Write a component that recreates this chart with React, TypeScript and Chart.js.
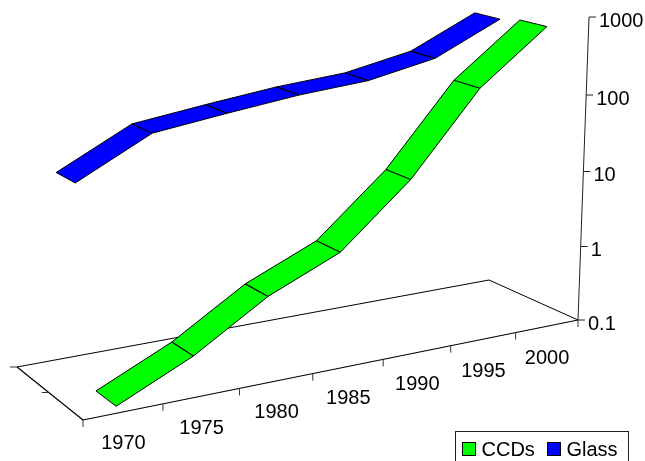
import React, { useEffect, useRef } from "react";
import { Chart, registerables } from "chart.js";

Chart.register(...registerables);

const years = [1970, 1975, 1980, 1985, 1990, 1995, 2000];
const ccds = [0.1, 0.27, 1, 2.5, 15, 162, 780];
const glass = [27, 81, 109, 143, 171, 263, 690];
const yTicks = [0.1, 1, 10, 100, 1000];
const depthBands = [[0.1, 0.385], [0.6, 0.885]];
const seriesColors = ["#00ff00", "#0000ff"];
const FONT = '20px "Liberation Sans", Arial, sans-serif';

// Perspective camera for the 3D look: (u along years, v depth, h height) -> screen.
const A = [83, 420], B = [578, 320], C = [489, 280], D = [17, 367], TOP = [589, 17];
const PERSP_H = -0.039;
const dx1 = B[0] - C[0], dx2 = D[0] - C[0], sx = A[0] - B[0] + C[0] - D[0];
const dy1 = B[1] - C[1], dy2 = D[1] - C[1], sy = A[1] - B[1] + C[1] - D[1];
const det = dx1 * dy2 - dx2 * dy1;
const g = (sx * dy2 - dx2 * sy) / det;
const i_ = (dx1 * sy - sx * dy1) / det;
const a = B[0] - A[0] + g * B[0], b = D[0] - A[0] + i_ * D[0];
const e = B[1] - A[1] + g * B[1], f = D[1] - A[1] + i_ * D[1];
const j = PERSP_H * (1 + g);
const c = TOP[0] * (1 + g + j) - (a + A[0]);
const k = TOP[1] * (1 + g + j) - (e + A[1]);
function project(u: number, v: number, h: number): [number, number] {
  const w = 1 + g * u + i_ * v + j * h;
  return [(a * u + b * v + c * h + A[0]) / w, (e * u + f * v + k * h + A[1]) / w];
}

const scene3d = {
  id: "scene3d",
  beforeDatasetsDraw(chart: any) {
    const ctx = chart.ctx;
    const xs = chart.scales.x, ys = chart.scales.y, area = chart.chartArea;
    const uOf = (yr: number) => (xs.getPixelForValue(yr) - area.left) / area.width;
    const line = (p: number[], q: number[], w: number, col = "#000") => {
      ctx.beginPath();
      ctx.moveTo(p[0], p[1]);
      ctx.lineTo(q[0], q[1]);
      ctx.lineWidth = w;
      ctx.strokeStyle = col;
      ctx.stroke();
    };
    ctx.save();
    // floor
    line(project(0, 1, 0), project(1, 1, 0), 1);
    line(project(1, 1, 0), project(1, 0, 0), 1);
    line(project(0, 0, 0), project(0, 1, 0), 1.2);
    line(project(0, 0, 0), project(1, 0, 0), 1.2);
    // year ticks
    for (let n = 0; n <= years.length; n++) {
      const p = project(n / years.length, 0, 0);
      line(p, [p[0], p[1] + 7], 1, "#333");
    }
    // depth ticks
    for (const v of [0.5, 1]) {
      const p = project(0, v, 0);
      line(p, [p[0] - 7, p[1]], 1, "#333");
    }
    // year labels
    ctx.font = FONT;
    ctx.fillStyle = "#000";
    ctx.textAlign = "center";
    ctx.textBaseline = "middle";
    years.forEach((yr) => {
      const p = project(uOf(yr), 0, 0);
      ctx.fillText(String(yr), p[0], p[1] + 32);
    });
    // value axis
    line(project(1, 0, 0), project(1, 0, 1), 1, "#222");
    ctx.textAlign = "left";
    yTicks.forEach((t) => {
      const h = (area.bottom - ys.getPixelForValue(t)) / area.height;
      const p = project(1, 0, h);
      line(p, [p[0] + 7, p[1]], 1, "#222");
      ctx.fillText(String(t), p[0] + 10, p[1] + 4);
    });
    ctx.restore();
  },
  beforeDatasetDraw(chart: any, args: any) {
    const ctx = chart.ctx, area = chart.chartArea;
    const band = depthBands[args.index];
    const pts = args.meta.data.map((el: any) => {
      const u = (el.x - area.left) / area.width;
      const h = (area.bottom - el.y) / area.height;
      return { front: project(u, band[0], h), back: project(u, band[1], h) };
    });
    ctx.save();
    ctx.lineJoin = "miter";
    ctx.fillStyle = chart.data.datasets[args.index].backgroundColor;
    ctx.beginPath();
    pts.forEach((p: any, n: number) => (n ? ctx.lineTo(p.front[0], p.front[1]) : ctx.moveTo(p.front[0], p.front[1])));
    [...pts].reverse().forEach((p: any) => ctx.lineTo(p.back[0], p.back[1]));
    ctx.closePath();
    ctx.fill();
    ctx.lineWidth = 1;
    ctx.strokeStyle = "#000";
    ctx.stroke();
    ctx.lineWidth = 1.2;
    pts.slice(1, -1).forEach((p: any) => {
      ctx.beginPath();
      ctx.moveTo(p.front[0], p.front[1]);
      ctx.lineTo(p.back[0], p.back[1]);
      ctx.stroke();
    });
    ctx.restore();
    return false;
  },
  afterDatasetsDraw(chart: any) {
    const ctx = chart.ctx;
    ctx.save();
    ctx.strokeStyle = "#222";
    ctx.lineWidth = 1;
    ctx.strokeRect(455.5, 431.5, 173, 40);
    ctx.font = FONT;
    ctx.textAlign = "left";
    ctx.textBaseline = "middle";
    const slots = [462.5, 547.5];
    chart.data.datasets.forEach((ds: any, n: number) => {
      ctx.fillStyle = ds.backgroundColor;
      ctx.fillRect(slots[n], 442.5, 13, 13);
      ctx.strokeStyle = "#000";
      ctx.strokeRect(slots[n], 442.5, 13, 13);
      ctx.fillStyle = "#000";
      ctx.fillText(ds.label, slots[n] + 19, 450);
    });
    ctx.restore();
  },
};

export default function App() {
  const ref = useRef<HTMLCanvasElement>(null);
  useEffect(() => {
    const chart = new Chart(ref.current as HTMLCanvasElement, {
      type: "line",
      data: {
        datasets: [
          { label: "CCDs", data: years.map((x, n) => ({ x, y: ccds[n] })), backgroundColor: seriesColors[0], borderColor: "#000" },
          { label: "Glass", data: years.map((x, n) => ({ x, y: glass[n] })), backgroundColor: seriesColors[1], borderColor: "#000" },
        ],
      },
      options: {
        animation: false,
        responsive: false,
        layout: { padding: 0 },
        plugins: { legend: { display: false }, tooltip: { enabled: false } },
        scales: {
          x: { type: "linear", display: false, min: 1967.5, max: 2002.5 },
          y: { type: "logarithmic", display: false, min: 0.1, max: 1000 },
        },
      },
      plugins: [scene3d],
    } as any);
    return () => chart.destroy();
  }, []);
  return (
    <canvas
      ref={ref}
      width={645}
      height={461}
      style={{ position: "fixed", left: 0, top: 0, width: 645, height: 461, display: "block" }}
    />
  );
}
